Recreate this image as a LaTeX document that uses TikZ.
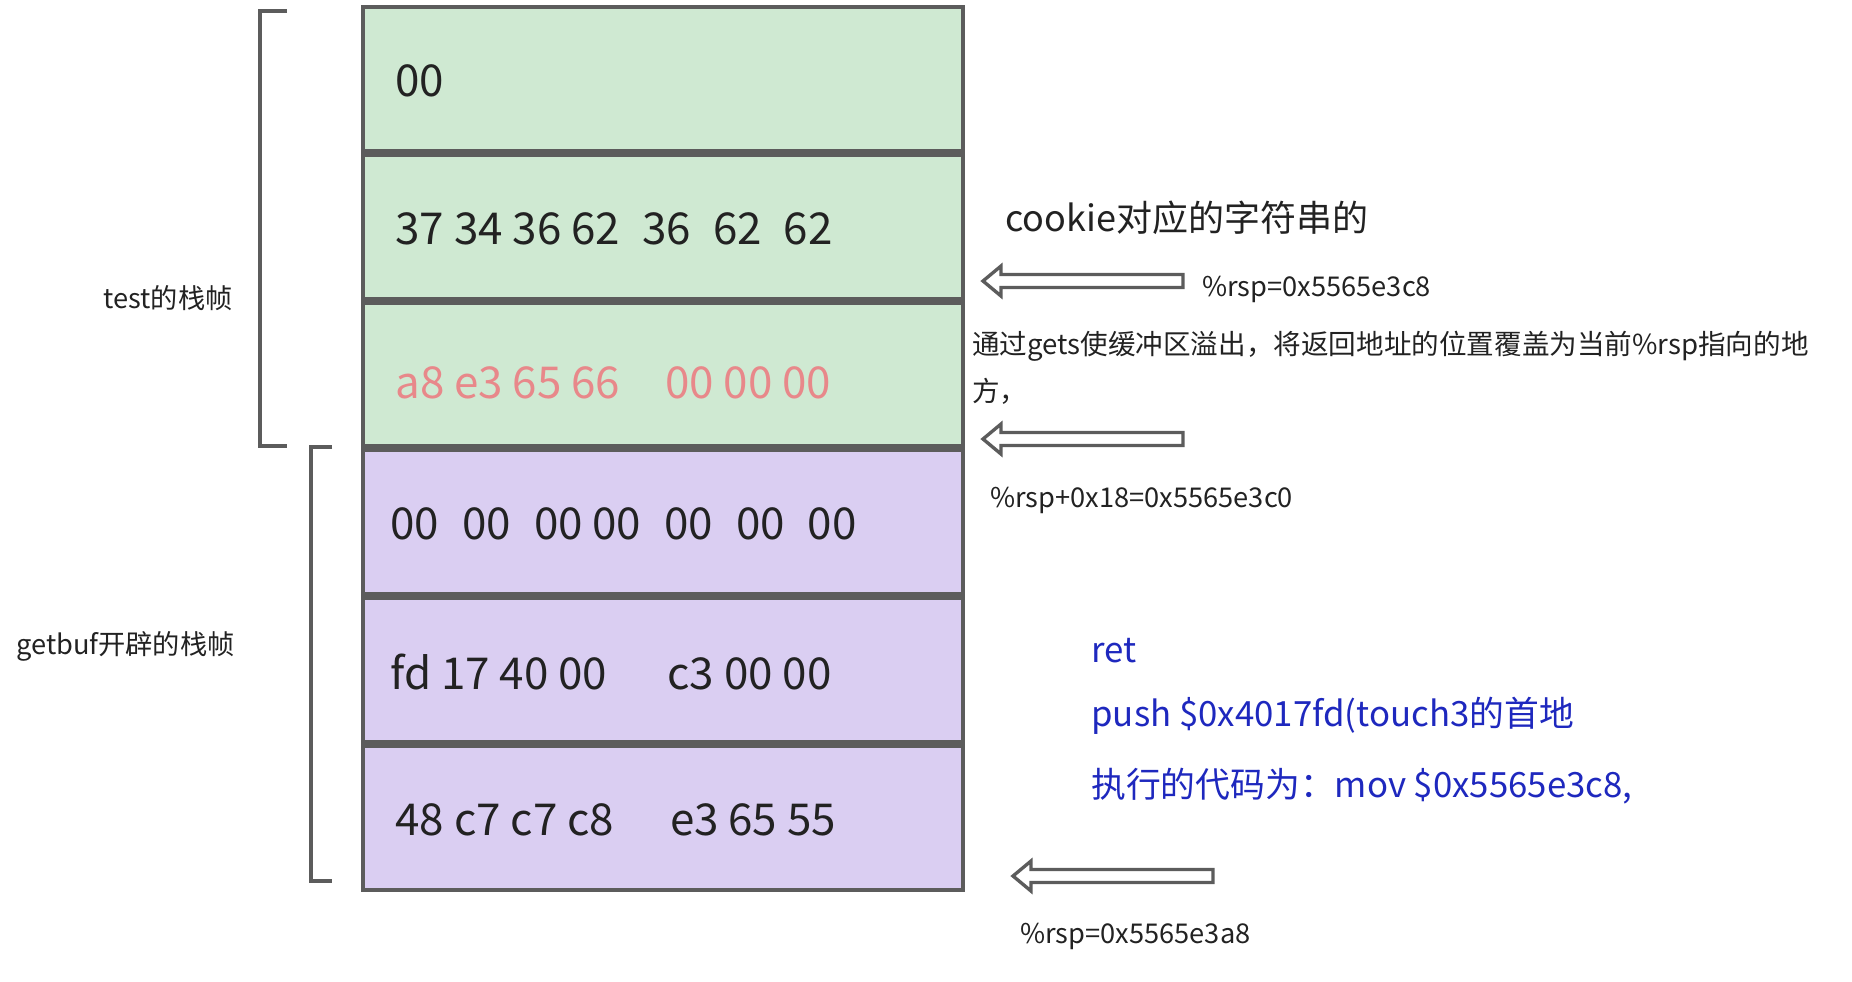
\documentclass[tikz,border=0pt]{standalone}
\usepackage{fontspec}
\setmainfont{Noto Sans CJK SC}
\usetikzlibrary{positioning,calc}

\definecolor{stackgreen}{HTML}{CFE9D2}
\definecolor{stackpurple}{HTML}{DACEF2}
\definecolor{framegray}{HTML}{5C5C5C}
\definecolor{bytepink}{HTML}{E8888A}
\definecolor{codeblue}{HTML}{1E28BE}
\definecolor{inkgray}{HTML}{222222}

\tikzset{
  cell/.style={draw=framegray, line width=2.2pt, minimum width=12cm, minimum height=2.876cm, inner sep=0pt},
  bytes/.style={inner sep=0pt, anchor=west, text=inkgray, yshift=-0.04cm, font=\fontsize{25}{30}\selectfont},
  note/.style={inner sep=0pt, anchor=west, text=inkgray, font=\fontsize{15.5}{27}\selectfont},
  code/.style={inner sep=0pt, anchor=west, text=codeblue, font=\fontsize{19.8}{24}\selectfont},
  bracket/.style={draw=framegray, line width=2.5pt, line join=miter},
  rsparrow/.pic={\draw[framegray, line width=1.9pt, fill=white, line join=miter]
    (0,0) -- (18,-15) -- (18,-6.5) -- (200,-6.5) -- (200,6.5) -- (18,6.5) -- (18,15) -- cycle;}
}

\begin{document}
\begin{tikzpicture}[x=0.02cm, y=-0.02cm]
  \useasboundingbox (0,0) rectangle (1852,981);

  % the six stack slots
  \node[cell, fill=stackgreen] (r1) at (663,78.9) {};
  \node[cell, fill=stackgreen] (r2) at (663,226.7) {};
  \node[cell, fill=stackgreen] (r3) at (663,374.5) {};
  \node[cell, fill=stackpurple] (r4) at (663,522.3) {};
  \node[cell, fill=stackpurple] (r5) at (663,670.1) {};
  \node[cell, fill=stackpurple] (r6) at (663,817.9) {};

  \node[bytes, right=0.68cm of r1.west] (b1) {00};
  \node[bytes, right=0.68cm of r2.west] (b2) {37 34 36 62\hspace{.28em} 36\hspace{.28em} 62\hspace{.28em} 62};
  \node[bytes, right=0.68cm of r3.west, text=bytepink, yshift=-0.12cm] (b3) {a8 e3 65 66\hspace{.8em} 00 00 00};
  \node[bytes, right=0.58cm of r4.west] (b4) {00\hspace{.3em} 00\hspace{.3em} 00 00\hspace{.3em} 00\hspace{.3em} 00\hspace{.3em} 00};
  \node[bytes, right=0.58cm of r5.west] (b5) {fd 17 40 00\hspace{1.15em} c3 00 00};
  \node[bytes, right=0.68cm of r6.west] (b6) {48 c7 c7 c8\hspace{1.05em} e3 65 55};

  % frame brackets
  \draw[bracket] (287,11) -- (260,11) -- (260,446) -- (287,446);
  \draw[bracket] (332,447) -- (311,447) -- (311,881) -- (332,881);
  \node[note, anchor=east] (testlbl) at (233,298) {test的栈帧};
  \node[note, anchor=east] (getbuflbl) at (235,646) {getbuf开辟的栈帧};

  % right side notes
  \node[note, font=\fontsize{20.5}{24}\selectfont] (cookie) at (1005,218) {cookie对应的字符串的};
  \pic at (983,281) {rsparrow};
  \node[note] (rsp1) at (1202,289) {\%rsp=0x5565e3c8};
  \node[note, align=left, font=\fontsize{15.7}{27}\selectfont] (overflow) at (972,368) {通过gets使缓冲区溢出，将返回地址的位置覆盖为当前\%rsp指向的地\\方，};
  \pic at (983,439) {rsparrow};
  \node[note] (rsp2) at (990,500) {\%rsp+0x18=0x5565e3c0};

  \node[code] (ret) at (1091,651) {ret};
  \node[code] (push) at (1091,716) {push \$0x4017fd(touch3的首地};
  \node[code] (mov) at (1091,786) {执行的代码为：mov \$0x5565e3c8,};
  \pic at (1013,876) {rsparrow};
  \node[note] (rsp3) at (1020,936) {\%rsp=0x5565e3a8};
\end{tikzpicture}
\end{document}
